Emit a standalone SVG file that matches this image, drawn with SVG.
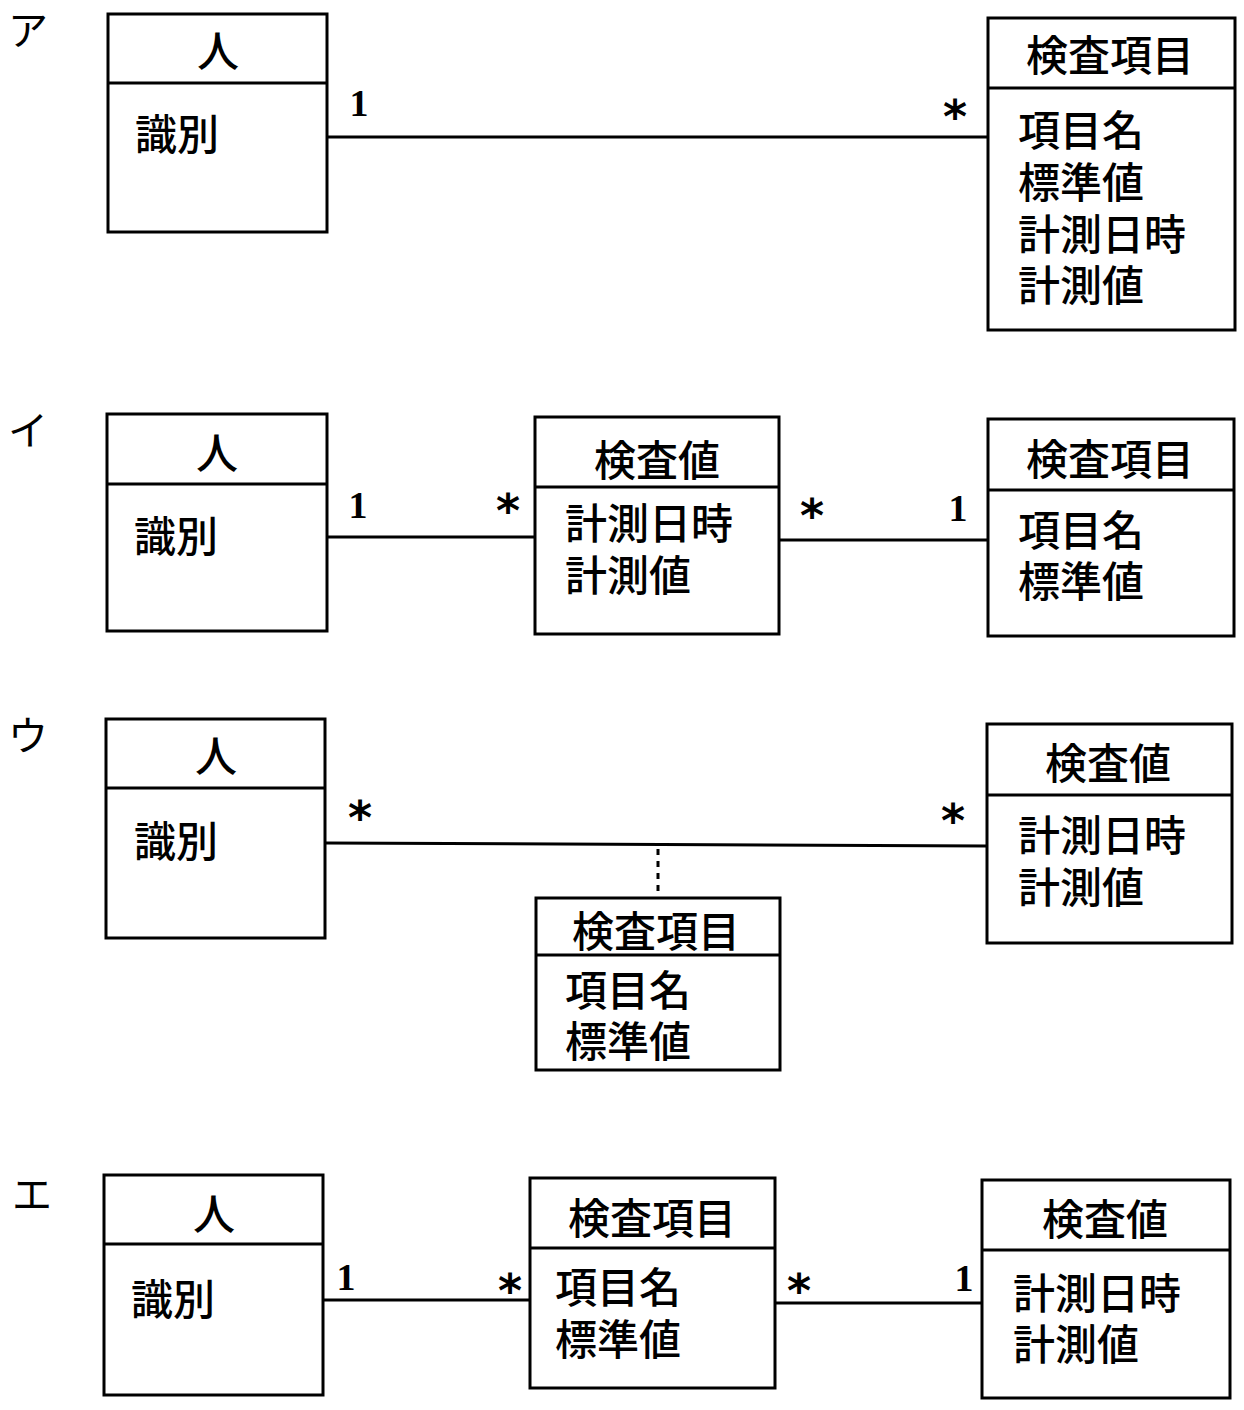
<svg xmlns="http://www.w3.org/2000/svg" width="1244" height="1410" viewBox="0 0 1244 1410">
<style>
.box{fill:#fff;stroke:#000;stroke-width:3}
.div{stroke:#000;stroke-width:3}
.t{font-family:"Noto Sans CJK JP","Noto Sans CJK SC",sans-serif;font-size:42px;font-weight:500;fill:#000;dominant-baseline:central}
.c{text-anchor:middle}
.m{font-family:"Liberation Serif",serif;font-size:38px;font-weight:bold;fill:#000;text-anchor:middle;dominant-baseline:central}
.s{font-family:"DejaVu Sans",sans-serif;font-size:46px;font-weight:bold;fill:#000;text-anchor:middle}
.k{font-family:"Noto Sans CJK JP",sans-serif;font-size:40px;fill:#000;dominant-baseline:central}
.ln{stroke:#000;stroke-width:3;fill:none}
.dot{stroke:#000;stroke-width:3;fill:none;stroke-dasharray:6 6}
</style>
<text class="k" x="8" y="28">ア</text>
<text class="k" x="8" y="428">イ</text>
<text class="k" x="8" y="733">ウ</text>
<text class="k" x="12" y="1192">エ</text>

<g id="a-person"><rect class="box" x="108" y="14" width="219" height="218"/><line class="div" x1="108" y1="83" x2="327" y2="83"/><text class="t c" x="218" y="48">人</text><text class="t" x="135" y="131">識別</text></g>
<g id="a-item"><rect class="box" x="988" y="18" width="247" height="312"/><line class="div" x1="988" y1="88" x2="1235" y2="88"/><text class="t c" x="1110" y="52">検査項目</text><text class="t" x="1018" y="127"><tspan x="1018" y="127">項目名</tspan><tspan x="1018" y="179">標準値</tspan><tspan x="1018" y="231">計測日時</tspan><tspan x="1018" y="282">計測値</tspan></text></g>

<g id="i-person"><rect class="box" x="107" y="414" width="220" height="217"/><line class="div" x1="107" y1="484" x2="327" y2="484"/><text class="t c" x="217" y="450">人</text><text class="t" x="134" y="533">識別</text></g>
<g id="i-value"><rect class="box" x="535" y="417" width="244" height="217"/><line class="div" x1="535" y1="487" x2="779" y2="487"/><text class="t c" x="657" y="457">検査値</text><text class="t" x="565" y="520"><tspan x="565" y="520">計測日時</tspan><tspan x="565" y="572">計測値</tspan></text></g>
<g id="i-item"><rect class="box" x="988" y="419" width="246" height="217"/><line class="div" x1="988" y1="490" x2="1234" y2="490"/><text class="t c" x="1110" y="456">検査項目</text><text class="t" x="1018" y="527"><tspan x="1018" y="527">項目名</tspan><tspan x="1018" y="578">標準値</tspan></text></g>

<g id="u-person"><rect class="box" x="106" y="719" width="219" height="219"/><line class="div" x1="106" y1="788" x2="325" y2="788"/><text class="t c" x="216" y="753">人</text><text class="t" x="134" y="838">識別</text></g>
<g id="u-value"><rect class="box" x="987" y="724" width="245" height="219"/><line class="div" x1="987" y1="795" x2="1232" y2="795"/><text class="t c" x="1108" y="760">検査値</text><text class="t" x="1018" y="832"><tspan x="1018" y="832">計測日時</tspan><tspan x="1018" y="884">計測値</tspan></text></g>
<g id="u-item"><rect class="box" x="536" y="898" width="244" height="172"/><line class="div" x1="536" y1="955" x2="780" y2="955"/><text class="t c" x="656" y="928">検査項目</text><text class="t" x="565" y="987"><tspan x="565" y="987">項目名</tspan><tspan x="565" y="1038">標準値</tspan></text></g>

<g id="e-person"><rect class="box" x="104" y="1175" width="219" height="220"/><line class="div" x1="104" y1="1244" x2="323" y2="1244"/><text class="t c" x="214" y="1211">人</text><text class="t" x="131" y="1296">識別</text></g>
<g id="e-item"><rect class="box" x="530" y="1178" width="245" height="210"/><line class="div" x1="530" y1="1248" x2="775" y2="1248"/><text class="t c" x="652" y="1215">検査項目</text><text class="t" x="555" y="1284"><tspan x="555" y="1284">項目名</tspan><tspan x="555" y="1336">標準値</tspan></text></g>
<g id="e-value"><rect class="box" x="982" y="1180" width="248" height="218"/><line class="div" x1="982" y1="1250" x2="1230" y2="1250"/><text class="t c" x="1105" y="1216">検査値</text><text class="t" x="1013" y="1290"><tspan x="1013" y="1290">計測日時</tspan><tspan x="1013" y="1341">計測値</tspan></text></g>

<g id="connectors">
<line class="ln" x1="327" y1="137" x2="988" y2="137"/>
<text class="m" x="359" y="103">1</text><text class="s" x="955" y="133">*</text>
<line class="ln" x1="327" y1="537" x2="535" y2="537"/>
<text class="m" x="358" y="505">1</text><text class="s" x="508" y="527">*</text>
<line class="ln" x1="779" y1="540" x2="988" y2="540"/>
<text class="s" x="812" y="532">*</text><text class="m" x="958" y="508">1</text>
<line class="ln" x1="325" y1="843" x2="987" y2="846"/>
<text class="s" x="360" y="834">*</text><text class="s" x="953" y="837">*</text>
<line class="dot" x1="658" y1="849" x2="658" y2="896"/>
<line class="ln" x1="323" y1="1300" x2="530" y2="1300"/>
<text class="m" x="346" y="1277">1</text><text class="s" x="510" y="1307">*</text>
<line class="ln" x1="775" y1="1303" x2="982" y2="1303"/>
<text class="s" x="799" y="1307">*</text><text class="m" x="964" y="1278">1</text>
</g>
</svg>
